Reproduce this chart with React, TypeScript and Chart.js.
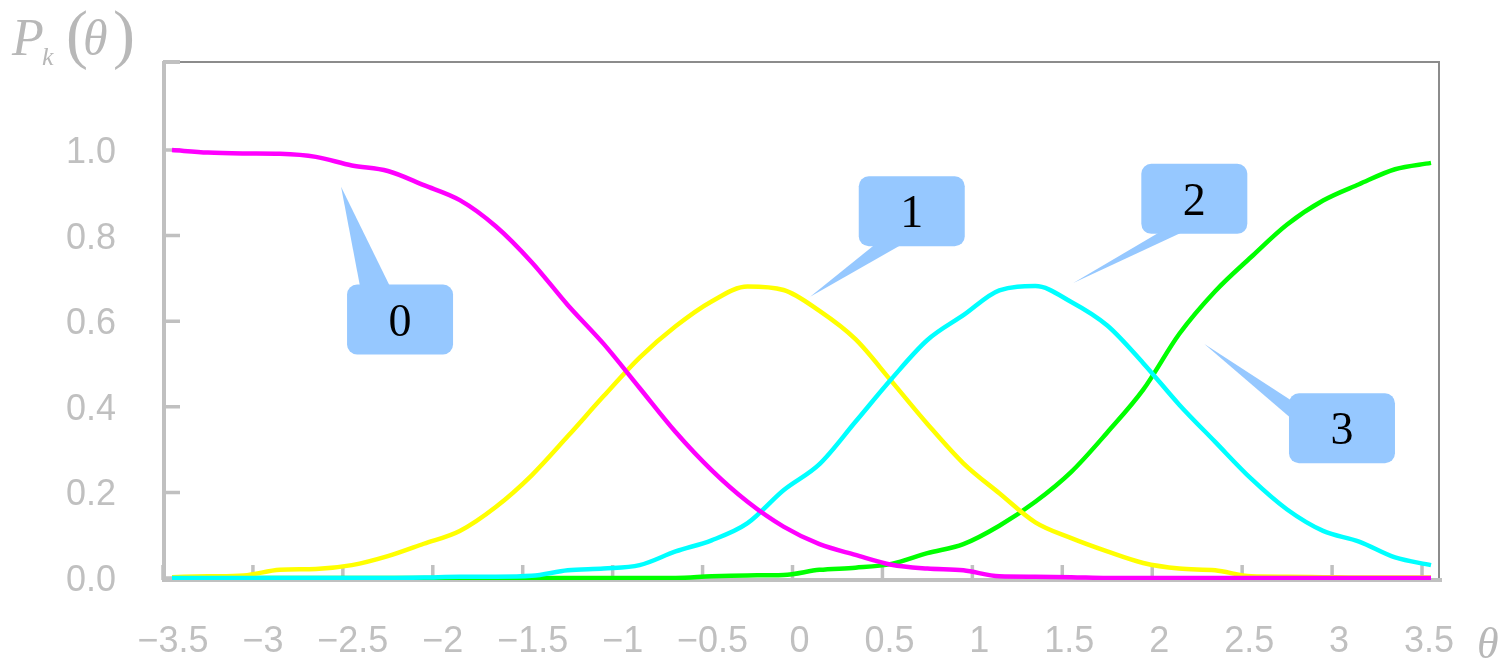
import { useEffect, useRef } from "react";
import { Chart, registerables } from "chart.js";

Chart.register(...registerables);

// Ability levels at which the category response curves are sampled
const theta = [
  -3.45, -3.25, -3.05, -2.85, -2.65, -2.45, -2.25, -2.05, -1.85, -1.65, -1.45, -1.25,
  -1.05, -0.85, -0.65, -0.45, -0.25, -0.05, 0.15, 0.35, 0.55, 0.75, 0.95, 1.15,
  1.35, 1.55, 1.75, 1.95, 2.15, 2.35, 2.55, 2.75, 2.95, 3.15, 3.35, 3.55,
];

// P_k(θ) for categories 0..3
const p0 = [
  1.0, 0.994, 0.992, 0.991, 0.984, 0.964, 0.951, 0.918, 0.883, 0.822, 0.738, 0.638,
  0.547, 0.444, 0.341, 0.252, 0.178, 0.12, 0.079, 0.054, 0.031, 0.022, 0.018, 0.004,
  0.003, 0.002, 0, 0, 0, 0, 0, 0, 0, 0, 0, 0,
];
const p1 = [
  0.002, 0.004, 0.006, 0.019, 0.021, 0.03, 0.051, 0.08, 0.11, 0.166, 0.24, 0.331,
  0.425, 0.515, 0.588, 0.646, 0.681, 0.673, 0.624, 0.558, 0.46, 0.36, 0.268, 0.198,
  0.13, 0.093, 0.062, 0.035, 0.022, 0.018, 0.004, 0.003, 0.002, 0.001, 0.001, 0.001,
];
const p2 = [
  0, 0, 0, 0, 0, 0, 0, 0.001, 0.003, 0.003, 0.005, 0.018,
  0.022, 0.03, 0.062, 0.088, 0.128, 0.205, 0.266, 0.365, 0.465, 0.556, 0.614, 0.672,
  0.682, 0.645, 0.59, 0.502, 0.405, 0.318, 0.232, 0.16, 0.11, 0.085, 0.048, 0.03,
];
const p3 = [
  0, 0, 0, 0, 0, 0, 0, 0, 0, 0, 0, 0,
  0, 0, 0, 0.004, 0.006, 0.007, 0.019, 0.024, 0.033, 0.058, 0.079, 0.122,
  0.178, 0.248, 0.34, 0.44, 0.57, 0.67, 0.75, 0.826, 0.882, 0.92, 0.955, 0.97,
];

const seriesValues = [p0, p1, p2, p3];
const seriesColors = ["#ff00ff", "#ffff00", "#00ffff", "#00ff00"];
// drawing order (lower is painted on top)
const seriesOrder = [0, 2, 1, 3];

const xTicks = [-3.5, -3, -2.5, -2, -1.5, -1, -0.5, 0, 0.5, 1, 1.5, 2, 2.5, 3, 3.5];
const xTickLabels = [
  "\u22123.5", "\u22123", "\u22122.5", "\u22122", "\u22121.5", "\u22121", "\u22120.5",
  "0", "0.5", "1", "1.5", "2", "2.5", "3", "3.5",
];
const yTicks = [0, 0.2, 0.4, 0.6, 0.8, 1.0];
const yTickLabels = ["0.0", "0.2", "0.4", "0.6", "0.8", "1.0"];

// Category callouts: tip of the pointer and box centre, in data coordinates
const calloutText = ["0", "1", "2", "3"];
const calloutTipTheta = [-2.51, 0.098, 1.561, 2.29];
const calloutTipP = [0.914, 0.657, 0.689, 0.547];
const calloutBoxTheta = [-2.182, 0.663, 2.234, 3.055];
const calloutBoxP = [0.604, 0.857, 0.886, 0.35];
const calloutSide = ["top", "bottom", "bottom", "left"];
const calloutBase = [[-40, -10], [-36.5, -9.5], [-34, -11], [-28, -10]];

const AXIS_GRAY = "#c0c0c0";
const TITLE_GRAY = "#b8b8b8";
const FRAME_GRAY = "#8c8c8c";
const CALLOUT_BLUE = "#96c8ff";

const framePlugin = {
  id: "frame",
  beforeDatasetsDraw(chart: any) {
    const { ctx, chartArea: a, scales } = chart;
    const x = scales.x;
    const y = scales.y;
    ctx.save();

    // top and right frame
    ctx.strokeStyle = FRAME_GRAY;
    ctx.lineWidth = 2;
    ctx.beginPath();
    ctx.moveTo(a.left, a.top + 1);
    ctx.lineTo(a.right - 1, a.top + 1);
    ctx.lineTo(a.right - 1, a.bottom);
    ctx.stroke();

    // left and bottom axes
    ctx.strokeStyle = AXIS_GRAY;
    ctx.lineWidth = 4;
    ctx.beginPath();
    ctx.moveTo(a.left + 1, a.top);
    ctx.lineTo(a.left + 1, a.bottom + 2);
    ctx.moveTo(a.left - 1, a.bottom);
    ctx.lineTo(a.right + 2, a.bottom);
    ctx.moveTo(a.left, a.top + 1);
    ctx.lineTo(a.left + 17, a.top + 1);
    ctx.stroke();

    // inward ticks
    ctx.lineWidth = 3.5;
    ctx.beginPath();
    yTicks.forEach((v) => {
      const py = y.getPixelForValue(v);
      ctx.moveTo(a.left, py);
      ctx.lineTo(a.left + 17, py);
    });
    xTicks.forEach((v) => {
      const px = x.getPixelForValue(v);
      ctx.moveTo(px, a.bottom);
      ctx.lineTo(px, a.bottom - 15);
    });
    ctx.stroke();

    // tick labels
    ctx.fillStyle = AXIS_GRAY;
    ctx.font = "36px 'Liberation Sans', Arial, sans-serif";
    ctx.textAlign = "right";
    ctx.textBaseline = "middle";
    yTicks.forEach((v, i) => {
      ctx.fillText(yTickLabels[i], a.left - 47, y.getPixelForValue(v) + 3);
    });
    ctx.textAlign = "center";
    xTicks.forEach((v, i) => {
      const off = v < 0 ? 10 : 7;
      ctx.fillText(xTickLabels[i], x.getPixelForValue(v) + off, a.bottom + 62);
    });

    // axis titles
    ctx.fillStyle = TITLE_GRAY;
    ctx.textAlign = "left";
    ctx.textBaseline = "alphabetic";
    ctx.font = "italic 44px 'Liberation Serif', serif";
    ctx.fillText("\u03b8", 1477, 658);

    ctx.font = "italic 52px 'Liberation Serif', serif";
    ctx.fillText("P", 12, 55);
    ctx.font = "italic 26px 'Liberation Serif', serif";
    ctx.fillText("k", 42, 65);
    ctx.font = "66px 'Liberation Serif', serif";
    ctx.fillText("(", 66, 56);
    ctx.fillText(")", 113, 56);
    ctx.font = "italic 50px 'Liberation Serif', serif";
    ctx.fillText("\u03b8", 83, 55);

    ctx.restore();
  },
  afterDatasetsDraw(chart: any) {
    const { ctx, scales } = chart;
    const x = scales.x;
    const y = scales.y;
    const w = 106;
    const h = 70;
    ctx.save();
    calloutText.forEach((t, i) => {
      const cx = x.getPixelForValue(calloutBoxTheta[i]);
      const cy = y.getPixelForValue(calloutBoxP[i]);
      const tx = x.getPixelForValue(calloutTipTheta[i]);
      const ty = y.getPixelForValue(calloutTipP[i]);
      const [b1, b2] = calloutBase[i];
      const left = cx - w / 2;
      const top = cy - h / 2;
      ctx.fillStyle = CALLOUT_BLUE;
      ctx.beginPath();
      if (calloutSide[i] === "top") {
        ctx.moveTo(cx + b1, top + 2);
        ctx.lineTo(tx, ty);
        ctx.lineTo(cx + b2, top + 2);
      } else if (calloutSide[i] === "bottom") {
        ctx.moveTo(cx + b1, top + h - 2);
        ctx.lineTo(tx, ty);
        ctx.lineTo(cx + b2, top + h - 2);
      } else {
        ctx.moveTo(left + 2, cy + b1);
        ctx.lineTo(tx, ty);
        ctx.lineTo(left + 2, cy + b2);
      }
      ctx.closePath();
      ctx.fill();
      ctx.beginPath();
      ctx.roundRect(left, top, w, h, 10);
      ctx.fill();

      ctx.fillStyle = "#000000";
      ctx.font = "46px 'Liberation Serif', 'Times New Roman', serif";
      ctx.textAlign = "center";
      ctx.textBaseline = "middle";
      ctx.fillText(t, cx, cy + 4);
    });
    ctx.restore();
  },
};

export default function App() {
  const canvasRef = useRef<HTMLCanvasElement | null>(null);

  useEffect(() => {
    const canvas = canvasRef.current;
    if (!canvas) return;
    const chart = new Chart(canvas, {
      type: "line",
      data: {
        labels: theta,
        datasets: seriesValues.map((vals, i) => ({
          label: "P" + i,
          data: vals.map((v, j) => ({ x: theta[j], y: v })),
          borderColor: seriesColors[i],
          backgroundColor: seriesColors[i],
          borderWidth: 4.5,
          pointRadius: 0,
          fill: false,
          cubicInterpolationMode: "monotone" as const,
          order: seriesOrder[i],
        })),
      },
      options: {
        responsive: false,
        animation: false,
        devicePixelRatio: 1,
        layout: { padding: { left: 163, top: 61, right: 72, bottom: 84 } },
        plugins: {
          legend: { display: false },
          tooltip: { enabled: false },
        },
        scales: {
          x: { type: "linear", min: -3.5, max: 3.6, display: false },
          y: { type: "linear", min: -0.0047, max: 1.208, display: false },
        },
      },
      plugins: [framePlugin],
    });
    return () => chart.destroy();
  }, []);

  return (
    <div style={{ position: "fixed", left: 0, top: 0, width: 1512, height: 664, background: "#ffffff" }}>
      <canvas ref={canvasRef} width={1512} height={664} style={{ width: 1512, height: 664, display: "block" }} />
    </div>
  );
}
